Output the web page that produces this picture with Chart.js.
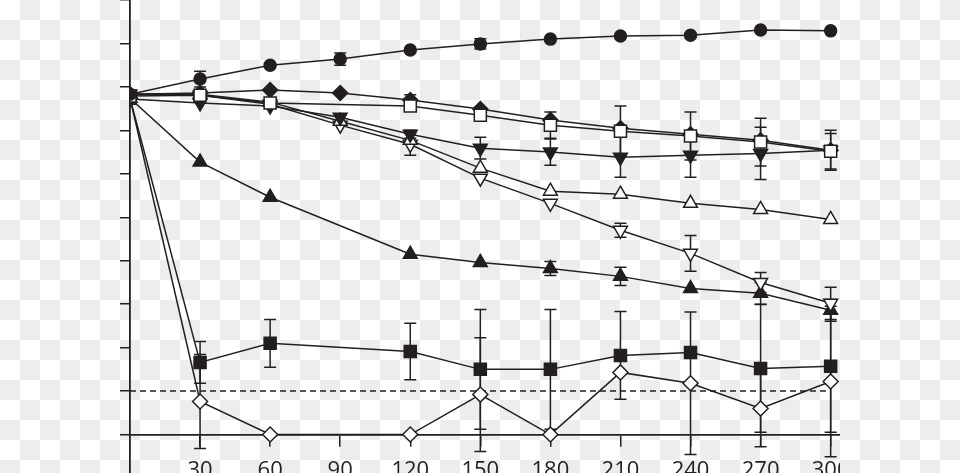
<!DOCTYPE html>
<html>
<head>
<meta charset="utf-8">
<script src="https://cdn.jsdelivr.net/npm/chart.js@4.4.1/dist/chart.umd.min.js"></script>
<style>
    html, body {
        margin: 0;
        padding: 0;
        width: 960px;
        height: 473px;
        overflow: hidden;
        background: repeating-conic-gradient(#ededed 0% 25%, #ffffff 0% 50%) 0 0 / 40px 40px;
    }
    .wrap {
        position: absolute;
        left: 0;
        top: 0;
        width: 840px;
        height: 473px;
        overflow: hidden;
    }
    #chartPic {
        position: absolute;
        left: 0;
        top: -10px;
    }
</style>
</head>
<body>
<div class="wrap"><canvas id="chartPic" width="960" height="498"></canvas></div>
<script>
// time points (x) and tick labels
const times = [0, 30, 60, 90, 120, 150, 180, 210, 240, 270, 300];
const xTicks = [30, 60, 90, 120, 150, 180, 210, 240, 270, 300];
const yTicks = [-10, 0, 10, 20, 30, 40, 50, 60, 70, 80, 90, 100];
const limitLevel = 10;

// series values (null = no measurement)
const circleFilled = [78.3, 81.8, 85.0, 86.4, 88.5, 89.9, 91.0, 91.7, 91.9, 93.1, 92.9];
const diamondFilled = [78.3, 78.6, 79.3, 78.6, 77.0, 74.9, 72.4, 70.5, 69.1, 67.7, 65.4];
const squareOpen = [77.9, 78.1, 76.3, null, 75.6, 73.5, 71.2, 69.8, 68.7, 67.3, 65.2];
const triDownFilled = [77.2, 76.3, 75.6, 73.0, 69.1, 65.9, 65.0, 63.8, 64.3, 64.7, 65.4];
const triUpOpen = [78.3, 78.3, 76.5, 72.1, 67.7, 61.3, 56.0, 55.3, 53.2, 51.8, 49.5];
const triDownOpen = [78.3, 78.1, 76.0, 71.2, 66.8, 59.0, 53.2, 47.0, 41.7, 35.0, 30.2];
const triUpFilled = [77.4, 62.7, 54.6, null, 41.5, 39.6, 38.2, 36.4, 33.6, 32.5, 28.6];
const squareFilled = [77.4, 16.6, 21.0, null, 19.1, 15.0, 15.0, 18.2, 18.9, 15.2, 15.7];
const diamondOpen = [77.4, 7.6, 0, null, 0, 9.2, 0, 14.3, 11.8, 6.0, 12.2];

// error bars (+/-)
const circleFilledErr = [0, 1.8, 0, 1.4, 0, 1.2, 0, 0, 0, 0, 0];
const diamondFilledErr = [0, 0, 0, 0, 1.2, 0, 0, 0, 0, 0, 0];
const squareOpenErr = [0, 0, 0, 0, 0, 1.2, 3.0, 5.8, 5.5, 5.5, 4.1];
const triDownFilledErr = [0, 0, 0, 0, 0.9, 2.5, 3.0, 4.6, 5.1, 6.0, 4.6];
const triUpOpenErr = [0, 0, 0, 0, 0, 0, 0, 0, 0, 0, 0];
const triDownOpenErr = [0, 0, 0, 0, 2.5, 0, 0, 1.6, 4.1, 2.3, 3.7];
const triUpFilledErr = [0, 0, 0, 0, 0, 0, 1.6, 2.1, 0, 2.5, 2.5];
const squareFilledErr = [0, 4.8, 5.5, 0, 6.5, 13.8, 13.8, 10.1, 0, 14.7, 15.2];
const diamondOpenErr = [0, 10.8, 0, 0, 0, 13.1, 0, 0, 16.4, 8.8, 17.3];

const ink = '#231f20';

function points(values) {
    return times.map((t, i) => ({x: t, y: values[i]}));
}

function series(values, errors, style, radius, filled, rotation) {
    return {
        data: points(values),
        errors: errors,
        borderColor: ink,
        borderWidth: 1.5,
        pointStyle: style,
        pointRadius: radius,
        pointHoverRadius: radius,
        pointRotation: rotation || 0,
        pointBorderWidth: 1.5,
        pointBorderColor: ink,
        pointBackgroundColor: filled ? ink : '#ffffff',
        spanGaps: true,
        tension: 0
    };
}

// vertical error bars with caps, drawn under the lines
const errorBars = {
    id: 'errorBars',
    beforeDatasetsDraw(chart) {
        const ctx = chart.ctx;
        const xs = chart.scales.x;
        const ys = chart.scales.y;
        ctx.save();
        ctx.strokeStyle = ink;
        ctx.lineWidth = 1.5;
        chart.data.datasets.forEach((ds) => {
            if (!ds.errors) return;
            ds.data.forEach((p, i) => {
                const e = ds.errors[i];
                if (p.y === null || !e) return;
                const px = xs.getPixelForValue(p.x);
                const top = ys.getPixelForValue(p.y + e);
                const bot = ys.getPixelForValue(p.y - e);
                ctx.beginPath();
                ctx.moveTo(px, top);
                ctx.lineTo(px, bot);
                ctx.moveTo(px - 6, top);
                ctx.lineTo(px + 6, top);
                ctx.moveTo(px - 6, bot);
                ctx.lineTo(px + 6, bot);
                ctx.stroke();
            });
        });
        ctx.restore();
    }
};

const ctx = document.getElementById('chartPic');
const myChart = new Chart(ctx, {
    type: 'line',
    data: {
        datasets: [
            series(circleFilled, circleFilledErr, 'circle', 6, true),
            series(squareOpen, squareOpenErr, 'rect', 8.5, false),
            series(diamondFilled, diamondFilledErr, 'rectRot', 7.5, true),
            series(triDownFilled, triDownFilledErr, 'triangle', 8, true, 180),
            series(triUpOpen, triUpOpenErr, 'triangle', 8, false),
            series(triDownOpen, triDownOpenErr, 'triangle', 8, false, 180),
            series(triUpFilled, triUpFilledErr, 'triangle', 8, true),
            series(squareFilled, squareFilledErr, 'rect', 8.5, true),
            series(diamondOpen, diamondOpenErr, 'rectRot', 7.5, false),
            {
                data: [{x: 0, y: limitLevel}, {x: 300, y: limitLevel}],
                borderColor: ink,
                borderWidth: 1.5,
                borderDash: [6, 4],
                pointRadius: 0,
                order: 10
            }
        ]
    },
    options: {
        responsive: false,
        animation: false,
        events: [],
        layout: {
            padding: {left: 120, right: 120, top: 0, bottom: 0}
        },
        scales: {
            x: {
                type: 'linear',
                min: 0,
                max: 304,
                position: {y: 0},
                afterBuildTicks: (scale) => {
                    scale.ticks = xTicks.map(v => ({value: v}));
                },
                ticks: {
                    color: ink,
                    padding: 12,
                    maxRotation: 0,
                    autoSkip: false,
                    font: {size: 22, family: "'Open Sans', sans-serif"}
                },
                grid: {
                    drawOnChartArea: false,
                    drawTicks: true,
                    tickLength: 11,
                    color: ink,
                    lineWidth: 1.5
                },
                border: {display: true, color: ink, width: 1.8}
            },
            y: {
                type: 'linear',
                min: -10,
                max: 100,
                afterBuildTicks: (scale) => {
                    scale.ticks = yTicks.map(v => ({value: v}));
                },
                ticks: {display: false},
                grid: {
                    drawOnChartArea: false,
                    drawTicks: true,
                    tickLength: 10,
                    color: ink,
                    lineWidth: 1.5
                },
                border: {display: true, color: ink, width: 1.8}
            }
        },
        plugins: {
            legend: {display: false},
            tooltip: {enabled: false}
        }
    },
    plugins: [errorBars]
});
</script>
</body>
</html>
